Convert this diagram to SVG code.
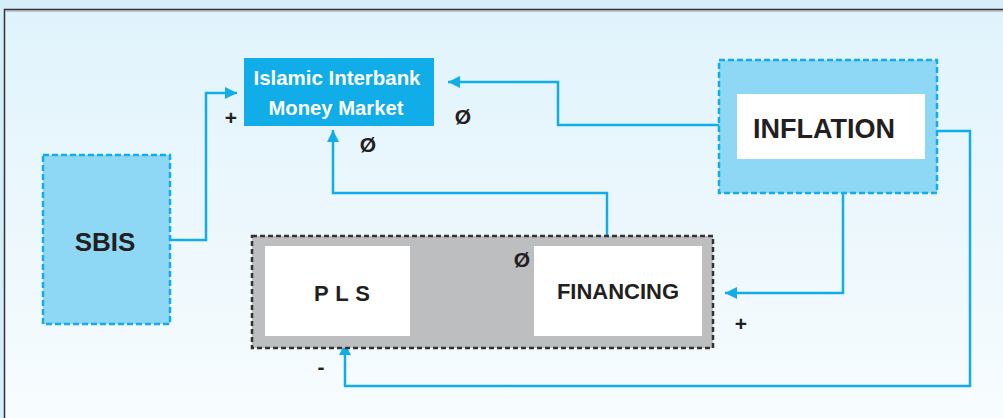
<svg xmlns="http://www.w3.org/2000/svg" width="1003" height="418" viewBox="0 0 1003 418">
<style>
.t{font-family:"Liberation Sans",Arial,sans-serif;font-weight:bold;fill:#231f20}
.w{font-family:"Liberation Sans",Arial,sans-serif;font-weight:bold;fill:#ffffff}
.c{fill:none;stroke:#10ade8;stroke-width:2.5}
.dash{fill:#8fd8f5;stroke:#10ade8;stroke-width:2.5;stroke-dasharray:6 3}
.sign{font-family:"Liberation Sans",Arial,sans-serif;font-weight:bold;fill:#231f20;font-size:21px;text-anchor:middle}
</style>
<defs>
<linearGradient id="bg" x1="0" y1="0" x2="0" y2="1">
<stop offset="0" stop-color="#e0f3fc"/>
<stop offset="1" stop-color="#f8fcfe"/>
</linearGradient>
<marker id="ah" viewBox="0 0 12 12" refX="12" refY="6" markerWidth="12" markerHeight="12" markerUnits="userSpaceOnUse" orient="auto">
<path d="M0,0 L12,6 L0,12 z" fill="#10ade8"/>
</marker>
</defs>
<rect x="0" y="0" width="1003" height="418" fill="#d5eefa"/>
<rect x="4.5" y="9.5" width="1010" height="420" fill="url(#bg)" stroke="#333" stroke-width="1.5"/>
<line x1="5.5" y1="11" x2="1003" y2="11" stroke="#999" stroke-width="1"/>

<g id="connectors">
<polyline class="c" points="170,240 206,240 206,93 237,93" marker-end="url(#ah)"/>
<polyline class="c" points="719,125 558,125 558,82 448,82" marker-end="url(#ah)"/>
<polyline class="c" points="607,236 607,193 333,193 333,130" marker-end="url(#ah)"/>
<polyline class="c" points="937,131 970,131 970,386 345,386 345,343" marker-end="url(#ah)"/>
<polyline class="c" points="843,193 843,293 725,293" marker-end="url(#ah)"/>
<polyline class="c" points="416,292 528,292" marker-end="url(#ah)"/>
</g>

<g id="iimm">
<rect x="244" y="58" width="190" height="68" fill="#10ade8"/>
<text class="w" x="337" y="85" font-size="21" text-anchor="middle" textLength="167" lengthAdjust="spacingAndGlyphs">Islamic Interbank</text>
<text class="w" x="336" y="115" font-size="21" text-anchor="middle" textLength="135" lengthAdjust="spacingAndGlyphs">Money Market</text>
</g>

<g id="sbis">
<rect class="dash" x="43" y="155" width="127" height="169"/>
<text class="t" x="105" y="251" font-size="26" text-anchor="middle">SBIS</text>
</g>

<g id="inflation">
<rect class="dash" x="719" y="60" width="218" height="133"/>
<rect x="737" y="94" width="188" height="65" fill="#ffffff"/>
<text class="t" x="824" y="138" font-size="27" text-anchor="middle" textLength="142" lengthAdjust="spacingAndGlyphs">INFLATION</text>
</g>

<g id="group">
<rect x="252" y="236" width="461" height="112" fill="#bcbec0" stroke="#333" stroke-width="2.5" stroke-dasharray="5 3"/>
</g>

<g id="pls">
<rect x="265" y="246" width="145" height="90" fill="#ffffff"/>
<text class="t" x="342" y="301" font-size="22" text-anchor="middle" textLength="56" lengthAdjust="spacing">P L S</text>
</g>

<g id="financing">
<rect x="534" y="246" width="168" height="90" fill="#ffffff"/>
<text class="t" x="618" y="299" font-size="22" text-anchor="middle">FINANCING</text>
</g>

<g id="signs">
<text class="sign" x="231" y="125">+</text>
<text class="sign" x="463" y="124">Ø</text>
<text class="sign" x="368" y="152">Ø</text>
<text class="sign" x="522" y="267">Ø</text>
<text class="sign" x="741" y="331">+</text>
<text class="sign" x="321" y="374">-</text>
</g>
</svg>
